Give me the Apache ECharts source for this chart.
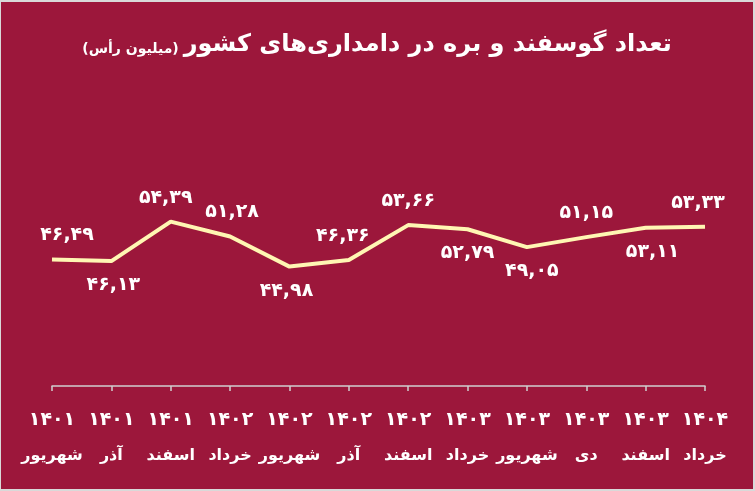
<!DOCTYPE html>
<html><head><meta charset="utf-8">
<script src="https://cdn.jsdelivr.net/npm/echarts@6/dist/echarts.min.js"></script>
<style>
html,body{margin:0;padding:0;width:755px;height:491px;background:#d9d9d9;overflow:hidden}
#c{position:absolute;left:1px;top:2px;width:752px;height:487px;background:#9c173b}
</style></head>
<body><div id="c"></div>
<script>
const years = ['1401','1401','1401','1402','1402','1402','1402','1403','1403','1403','1403','1404'];
const months = ['شهریور','آذر','اسفند','خرداد','شهریور','آذر','اسفند','خرداد','شهریور','دی','اسفند','خرداد'];
const values = [46.49, 46.13, 54.39, 51.28, 44.98, 46.36, 53.66, 52.79, 49.05, 51.15, 53.11, 53.33];
const labelSide = ['top','bottom','top','top','bottom','top','top','bottom','bottom','top','bottom','top'];
const labelDx = [15, 2, -5, 2, -3, -6, 0, 0, 5, 0, 7, -7];

const fa = s => String(s).replace(/\d/g, d => '۰۱۲۳۴۵۶۷۸۹'[d]);
const fmtVal = v => fa(v.toFixed(2).replace(/0$/, '')).replace('.', ',');
const cats = years.map((y, i) => y + '|' + months[i]);
const font = 'DejaVu Sans';

const chart = echarts.init(document.getElementById('c'));
chart.setOption({
  animation: false,
  backgroundColor: '#9c173b',
  title: {
    text: '{s|(میلیون رأس)} {t|تعداد گوسفند و بره در دامداری‌های کشور}',
    left: 'center', top: 26,
    textStyle: {
      rich: {
        t: {color: '#fff', fontSize: 24, fontWeight: 'bold', fontFamily: font},
        s: {color: '#fff', fontSize: 14, fontWeight: 'bold', fontFamily: font, padding: [8, 0, 0, 0]}
      }
    }
  },
  grid: {left: 51, right: 48, top: 145, bottom: 103},
  xAxis: {
    type: 'category', data: cats, boundaryGap: false,
    axisLine: {lineStyle: {color: '#d0d0d0', width: 1.5}},
    axisTick: {show: true, length: 5, lineStyle: {color: '#d0d0d0', width: 1.5}},
    axisLabel: {
      interval: 0, margin: 16,
      formatter: v => { const p = v.split('|'); return '{y|' + fa(p[0]) + '}\n{m|' + p[1] + '}'; },
      rich: {
        y: {color: '#fff', fontSize: 19, fontWeight: 'bold', fontFamily: font, lineHeight: 36},
        m: {color: '#fff', fontSize: 16, fontWeight: 'bold', fontFamily: font, lineHeight: 36}
      }
    }
  },
  yAxis: {type: 'value', min: 20, max: 70, show: false, splitLine: {show: false}},
  series: [{
    type: 'line', symbol: 'circle', symbolSize: 1, showSymbol: true,
    itemStyle: {color: 'rgba(0,0,0,0)'},
    lineStyle: {color: '#fff6b3', width: 4},
    labelLayout: p => ({dx: labelDx[p.dataIndex], hideOverlap: false}),
    data: values.map((v, i) => ({
      value: v,
      label: {show: true, position: labelSide[i], distance: 14,
        formatter: () => fmtVal(v), color: '#fff', fontSize: 19, fontWeight: 'bold', fontFamily: font}
    }))
  }]
});
</script></body></html>
